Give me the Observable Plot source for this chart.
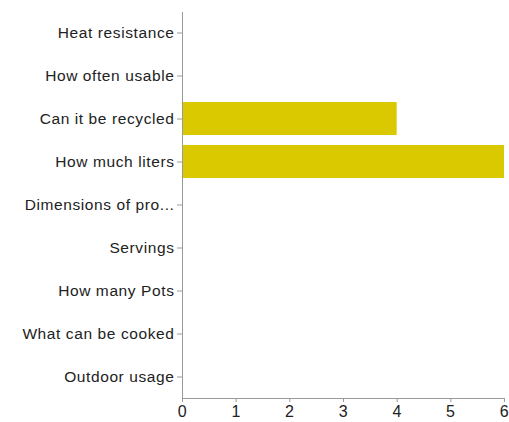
<!DOCTYPE html>
<html>
<head>
<meta charset="utf-8">
<script src="https://cdn.jsdelivr.net/npm/d3@7"></script>
<script src="https://cdn.jsdelivr.net/npm/@observablehq/plot@0.6"></script>
<style>
  html, body { margin: 0; padding: 0; background: #fff; }
  #chart svg text { letter-spacing: 0.6px; }
</style>
</head>
<body>
<div id="chart"></div>
<script>
const categories = [
  "Heat resistance",
  "How often usable",
  "Can it be recycled",
  "How much liters",
  "Dimensions of pro...",
  "Servings",
  "How many Pots",
  "What can be cooked",
  "Outdoor usage"
];
const counts = [0, 0, 4, 6, 0, 0, 0, 0, 0];
const xTicks = [0, 1, 2, 3, 4, 5, 6];

const data = categories.map((c, i) => ({category: c, value: counts[i]}));

const chart = Plot.plot({
  width: 509,
  height: 422,
  marginLeft: 182,
  marginRight: 5,
  marginTop: 12,
  marginBottom: 24,
  style: {fontFamily: "'Liberation Sans', Arial, sans-serif", color: "#222", background: "#fff"},
  x: {domain: [0, 6], ticks: xTicks},
  y: {domain: categories, paddingInner: 0.23, paddingOuter: 0.1},
  marks: [
    Plot.barX(data, {x: "value", y: "category", fill: "#dac900"}),
    Plot.ruleX([0], {stroke: "#9a9a9a"}),
    Plot.frame({anchor: "bottom", stroke: "#9a9a9a"}),
    Plot.axisY({tickSize: 5, tickPadding: 3, fontSize: 15.5, stroke: "#9a9a9a", fill: "#222", label: null}),
    Plot.axisX({ticks: xTicks, tickSize: 4, tickPadding: 3, fontSize: 16, stroke: "#9a9a9a", fill: "#222", label: null, tickFormat: d => String(d)})
  ]
});
document.getElementById("chart").appendChild(chart);
</script>
</body>
</html>
